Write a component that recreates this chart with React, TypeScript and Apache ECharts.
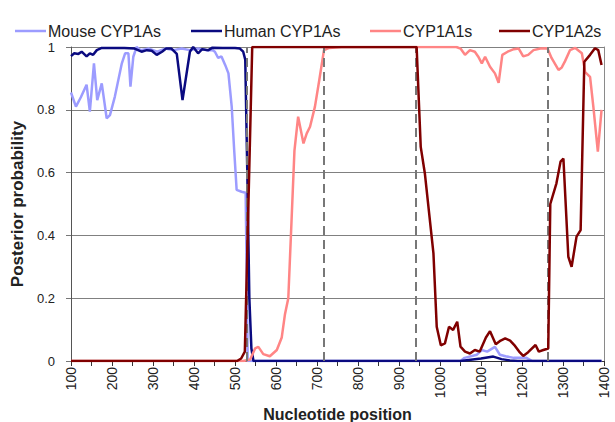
import React, { useEffect, useRef } from "react";
import * as echarts from "echarts";

const seriesNames = ["Mouse CYP1As", "Human CYP1As", "CYP1A1s", "CYP1A2s"];
const seriesColors = ["#9c9cff", "#0a0a80", "#ff8585", "#800000"];

const mouseCYP1As: [number, number][] = [
  [100, 0.855], [112, 0.81], [124, 0.84], [138, 0.88], [146, 0.794], [156, 0.948],
  [164, 0.831], [175, 0.884], [187, 0.773], [195, 0.783], [207, 0.842], [224, 0.948],
  [232, 0.98], [240, 0.98], [245, 0.874], [252, 0.969], [260, 1.0], [270, 0.99],
  [290, 0.995], [310, 0.985], [330, 0.995], [350, 0.99], [370, 0.995], [390, 0.99],
  [410, 0.995], [430, 0.99], [445, 0.99], [451, 0.985], [459, 0.965], [467, 0.97],
  [476, 0.943], [484, 0.916], [492, 0.81], [498, 0.672], [504, 0.545], [516, 0.539],
  [526, 0.536], [531, 0.0], [545, 0], [1050, 0], [1060, 0.01], [1090, 0.02],
  [1102, 0.035], [1115, 0.03], [1134, 0.045], [1146, 0.02], [1160, 0.015], [1180, 0.01],
  [1211, 0.01], [1225, 0], [1394, 0],
];

const humanCYP1As: [number, number][] = [
  [100, 0.971], [108, 0.98], [118, 0.978], [126, 0.985], [138, 0.97], [146, 0.98],
  [154, 0.975], [163, 0.99], [175, 0.997], [200, 0.997], [230, 0.997], [255, 0.995],
  [272, 0.985], [285, 0.99], [297, 0.988], [309, 0.975], [322, 0.985], [332, 0.995],
  [345, 0.995], [358, 0.978], [372, 0.831], [390, 0.985], [398, 1.0], [410, 0.98],
  [420, 0.993], [435, 0.99], [445, 0.998], [470, 0.997], [500, 0.997], [512, 0.995],
  [520, 0.985], [525, 0.96], [530, 0.6], [535, 0.2], [540, 0.04], [545, 0],
  [1050, 0], [1080, 0.005], [1100, 0.008], [1130, 0.014], [1150, 0.006], [1170, 0.002],
  [1190, 0], [1394, 0],
];

const cyp1a1s: [number, number][] = [
  [100, 0], [520, 0], [537, 0.005], [549, 0.04], [557, 0.045], [569, 0.022],
  [585, 0.015], [602, 0.035], [614, 0.075], [622, 0.15], [630, 0.2], [638, 0.45],
  [645, 0.67], [654, 0.778], [667, 0.693], [675, 0.725], [683, 0.746], [695, 0.81],
  [705, 0.89], [717, 0.99], [730, 0.997], [760, 1.0], [1040, 1.0], [1050, 0.995],
  [1061, 0.975], [1073, 0.99], [1085, 0.985], [1093, 0.97], [1102, 0.948], [1110, 0.969],
  [1122, 0.937], [1134, 0.916], [1143, 0.886], [1152, 0.975], [1165, 0.985], [1180, 0.993],
  [1192, 0.995], [1203, 0.97], [1215, 0.975], [1228, 0.99], [1245, 0.995], [1262, 0.996],
  [1272, 0.965], [1289, 0.927], [1297, 0.935], [1305, 0.955], [1317, 0.99], [1330, 0.997],
  [1346, 0.98], [1354, 0.92], [1366, 0.905], [1374, 0.81], [1385, 0.667], [1394, 0.8],
];

const cyp1a2s: [number, number][] = [
  [100, 0], [505, 0], [515, 0.008], [524, 0.03], [542, 1.0], [943, 1.0],
  [953, 0.682], [963, 0.598], [984, 0.343], [992, 0.109], [1002, 0.05], [1012, 0.056],
  [1022, 0.109], [1032, 0.099], [1042, 0.125], [1050, 0.046], [1061, 0.03], [1073, 0.024],
  [1085, 0.035], [1097, 0.03], [1112, 0.075], [1122, 0.095], [1136, 0.053], [1148, 0.065],
  [1159, 0.072], [1171, 0.065], [1183, 0.048], [1193, 0.03], [1203, 0.016], [1215, 0.028],
  [1233, 0.051], [1241, 0.03], [1252, 0.035], [1264, 0.04], [1269, 0.5], [1284, 0.566],
  [1294, 0.635], [1301, 0.645], [1313, 0.332], [1321, 0.3], [1333, 0.396], [1343, 0.417],
  [1352, 0.953], [1366, 0.975], [1378, 0.996], [1386, 0.99], [1394, 0.943],
];

const dividerPositions = [529, 717, 940, 1263];
const legendLefts = [15, 191, 370, 499];

export default function App() {
  const ref = useRef<HTMLDivElement>(null);
  useEffect(() => {
    if (!ref.current) return;
    const chart = echarts.init(ref.current, null, { renderer: "svg" });
    const font = "'Liberation Sans', Arial, sans-serif";
    const allData = [mouseCYP1As, humanCYP1As, cyp1a1s, cyp1a2s];
    chart.setOption({
      animation: false,
      backgroundColor: "#ffffff",
      textStyle: { fontFamily: font },
      legend: seriesNames.map((n, i) => ({
        data: [{ name: n, icon: "rect" }],
        left: legendLefts[i],
        top: 23,
        padding: 0,
        itemWidth: 31,
        itemHeight: 2.5,
        itemGap: 0,
        selectedMode: false,
        textStyle: { fontSize: 16, color: "#222", fontFamily: font, padding: [0, 0, 0, -3] },
      })),
      grid: { left: 71, right: 11, top: 47, bottom: 61, outerBoundsMode: "none", containLabel: false },
      xAxis: {
        type: "value",
        min: 100,
        max: 1400,
        interval: 100,
        axisLine: { lineStyle: { color: "#333", width: 1 } },
        axisTick: { length: 5, lineStyle: { color: "#333" } },
        minorTick: { show: true, splitNumber: 2, length: 5, lineStyle: { color: "#333" } },
        splitLine: { show: false },
        axisLabel: {
          rotate: 90,
          fontSize: 14,
          color: "#222",
          margin: 6,
          fontFamily: font,
          formatter: (v: number) => String(v),
        },
        name: "Nucleotide position",
        nameLocation: "middle",
        nameGap: 39,
        nameTextStyle: { fontSize: 16, fontWeight: "bold", color: "#222", fontFamily: font },
      },
      yAxis: [
        {
          type: "value",
          min: 0,
          max: 1,
          interval: 0.2,
          axisLine: { show: true, lineStyle: { color: "#555" } },
          axisTick: { show: true, length: 5, lineStyle: { color: "#777" } },
          splitLine: { show: true, lineStyle: { color: "#808080", width: 1 } },
          axisLabel: { fontSize: 13, color: "#222", margin: 16, fontFamily: font },
          name: "Posterior probability",
          nameLocation: "middle",
          nameGap: 33,
          nameTextStyle: { fontSize: 17, fontWeight: "bold", color: "#222", fontFamily: font },
        },
        {
          type: "value",
          min: 0,
          max: 1,
          position: "right",
          axisLine: { show: true, lineStyle: { color: "#8a8a8a" } },
          axisTick: { show: false },
          axisLabel: { show: false },
          splitLine: { show: false },
        },
      ],
      series: allData.map((d, i) => ({
        name: seriesNames[i],
        type: "line",
        data: d,
        symbol: "none",
        color: seriesColors[i],
        lineStyle: { color: seriesColors[i], width: 2.5 },
        z: 2 + i,
        ...(i === 3
          ? {
              markLine: {
                silent: true,
                symbol: ["none", "none"],
                label: { show: false },
                lineStyle: { color: "#777777", type: [9, 5], width: 2 },
                data: dividerPositions.map((x) => ({ xAxis: x })),
              },
            }
          : {}),
      })),
    });
    return () => chart.dispose();
  }, []);
  return (
    <div
      ref={ref}
      style={{ position: "absolute", left: 0, top: 0, width: 615, height: 422, background: "#fff" }}
    />
  );
}
